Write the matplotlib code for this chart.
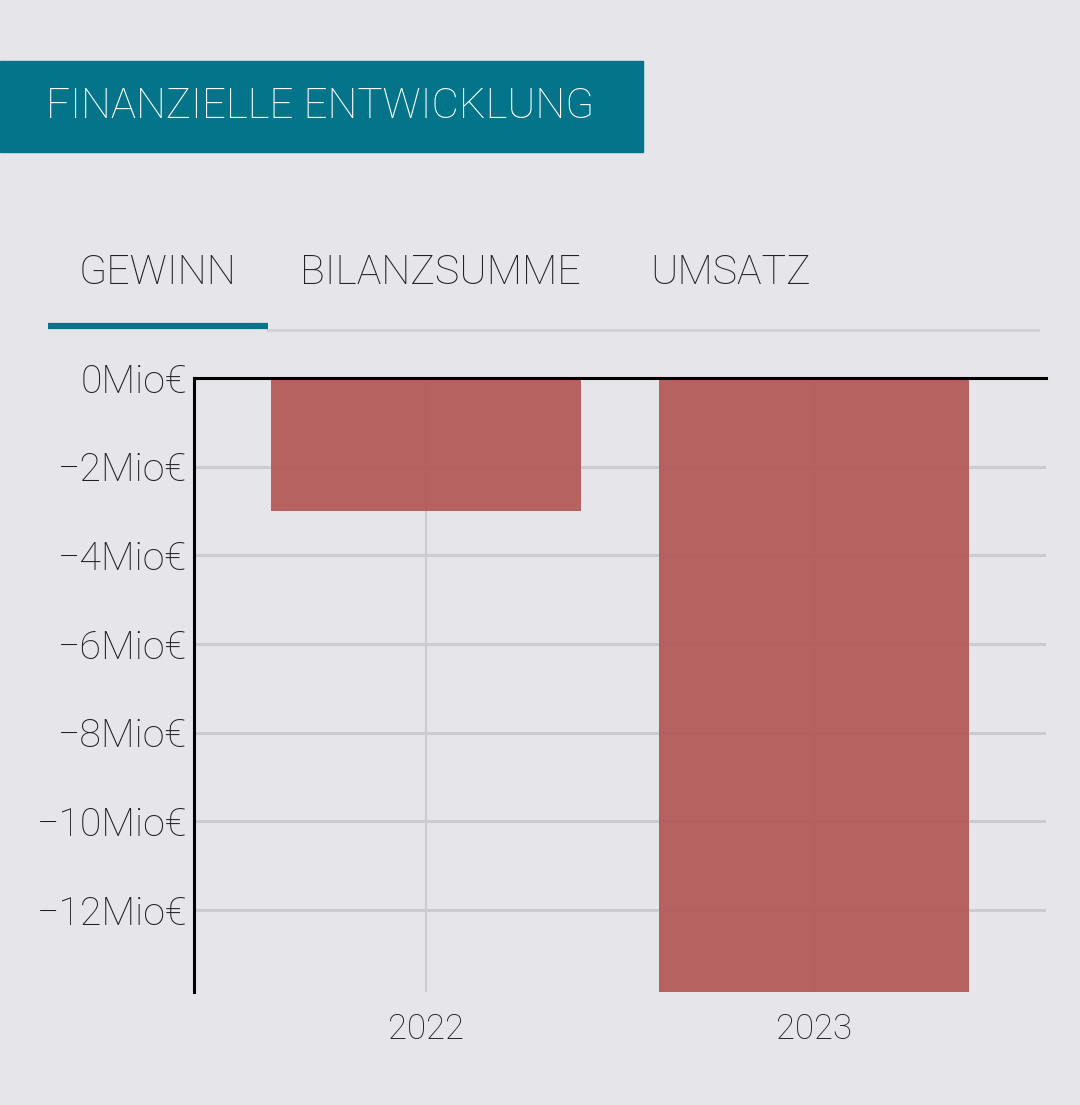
import matplotlib.pyplot as plt
from matplotlib.ticker import FuncFormatter

# data (Mio €)
years = ['2022', '2023']
gewinn = [-3.0, -13.85]
tabs = ['GEWINN', 'BILANZSUMME', 'UMSATZ']
title = 'FINANZIELLE ENTWICKLUNG'

bg = '#e6e5ea'
teal = '#037489'
bar_col = '#b35856'
grid_col = '#cccbd1'

plt.rcParams['font.family'] = ['Roboto', 'DejaVu Sans']
plt.rcParams['font.weight'] = 'light'

W, H = 1080, 1105
fig = plt.figure(figsize=(W / 100, H / 100), dpi=100, facecolor=bg)

def fx(px):
    return px / W

def fy(py):
    return 1 - py / H

# title banner
fig.patches.append(plt.Rectangle((0, fy(152)), fx(643), (152 - 61) / H,
                                 transform=fig.transFigure, color=teal, zorder=0))
fig.text(fx(46), fy(106), title, color='white', fontsize=30.3, weight='light',
         va='center', ha='left')

# tabs
tab_x = [79, 300, 650]
for t, x in zip(tabs, tab_x):
    fig.text(fx(x), fy(273), t, color='#222226', fontsize=29.6, weight='light',
             va='center', ha='left')
fig.add_artist(plt.Line2D([fx(268), fx(1038)], [fy(330), fy(330)],
                          transform=fig.transFigure, color='#d2d1d6', lw=2.2))
fig.add_artist(plt.Line2D([fx(48), fx(268)], [fy(326), fy(326)],
                          transform=fig.transFigure, color=teal, lw=4.5,
                          solid_capstyle='butt'))

# chart
ax = fig.add_axes([fx(194), fy(992), fx(1046 - 194), (992 - 378) / H])
ax.set_facecolor(bg)
x = list(range(len(years)))
ax.bar(x, gewinn, width=0.8, color=bar_col, alpha=0.93, zorder=3)
ax.set_xlim(-0.6, 1.6)
ax.set_ylim(min(gewinn), 0)
ax.set_xticks(x)
ax.set_xticklabels(years)
ax.set_yticks([0, -2, -4, -6, -8, -10, -12])
ax.yaxis.set_major_formatter(FuncFormatter(
    lambda v, p: ('%dMio€' % v).replace('-', '\u2212')))
ax.grid(True, axis='y', color=grid_col, lw=2.2, zorder=1)
ax.grid(True, axis='x', color=grid_col, lw=1.6, zorder=1)
ax.set_axisbelow(True)
for s in ['right', 'bottom']:
    ax.spines[s].set_visible(False)
for s in ['left', 'top']:
    ax.spines[s].set_color('black')
    ax.spines[s].set_linewidth(2.2)
    ax.spines[s].set_zorder(5)
ax.tick_params(axis='both', length=0, colors='#1e1e22')
ax.tick_params(axis='y', labelsize=28.3, pad=5)
ax.tick_params(axis='x', labelsize=25, pad=15)
for lab in ax.get_xticklabels() + ax.get_yticklabels():
    lab.set_fontweight('light')

fig.savefig('out.png', dpi=100, facecolor=bg)
